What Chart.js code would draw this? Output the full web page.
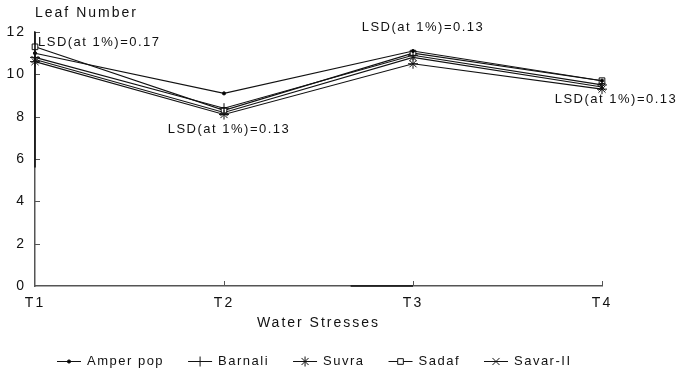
<!DOCTYPE html>
<html>
<head>
<meta charset="utf-8">
<script src="https://cdn.jsdelivr.net/npm/chart.js@4/dist/chart.umd.min.js"></script>
<style>
html,body{margin:0;padding:0;background:#fff;}
#wrap{width:678px;height:372px;position:relative;}
</style>
</head>
<body>
<div id="wrap"><canvas id="c" width="678" height="372"></canvas></div>
<script>
// ---- data ----
const categories = ['T1', 'T2', 'T3', 'T4'];
const seriesNames = ['Amper pop', 'Barnali', 'Suvra', 'Sadaf', 'Savar-II'];
const amperPop = [11.0, 9.1, 11.1, 9.7];
const barnali  = [10.8, 8.4, 10.9, 9.5];
const suvra    = [10.6, 8.1, 10.5, 9.3];
const sadaf    = [11.3, 8.3, 11.0, 9.7];
const savarII  = [10.7, 8.2, 10.8, 9.4];
const yTickValues = [0, 2, 4, 6, 8, 10, 12];
const lsdLabels = ['LSD(at 1%)=0.17', 'LSD(at 1%)=0.13', 'LSD(at 1%)=0.13', 'LSD(at 1%)=0.13'];
const yTitle = 'Leaf Number';
const xTitle = 'Water Stresses';

// ---- styles ----
const FONT = '"Liberation Sans", Arial, sans-serif';
const styles = [
  {pointStyle: 'circle', radius: 1.6, bg: '#000'},
  {pointStyle: 'cross', radius: 5, bg: '#000'},
  {pointStyle: 'star', radius: 5, bg: '#000'},
  {pointStyle: 'rect', radius: 4, bg: '#fff'},
  {pointStyle: 'crossRot', radius: 5, bg: '#000'}
];
const seriesData = [amperPop, barnali, suvra, sadaf, savarII];

const datasets = seriesData.map((d, i) => ({
  label: seriesNames[i],
  data: d,
  borderColor: '#111',
  borderWidth: 1.1,
  backgroundColor: styles[i].bg,
  pointStyle: styles[i].pointStyle,
  pointRadius: styles[i].radius,
  pointBorderColor: '#111',
  pointBorderWidth: 1,
  pointBackgroundColor: styles[i].bg,
  tension: 0,
  fill: false,
  clip: false
}));

const spacingPlugin = {
  id: 'spacing',
  beforeDraw(chart) { chart.ctx.letterSpacing = '2px'; }
};

// inner tick marks, annotations, y title and legend
const extrasPlugin = {
  id: 'extras',
  afterDraw(chart) {
    const ctx = chart.ctx;
    const xs = chart.scales.x, ys = chart.scales.y;
    ctx.save();
    ctx.strokeStyle = '#555';
    ctx.lineWidth = 1;
    // y inner ticks
    yTickValues.forEach(v => {
      if (v === 0) return;
      const y = Math.round(ys.getPixelForValue(v)) + 0.5;
      ctx.beginPath();
      ctx.moveTo(xs.left, y);
      ctx.lineTo(xs.left + 5, y);
      ctx.stroke();
    });
    // x inner ticks
    categories.forEach((c, i) => {
      if (i === 0) return;
      const x = Math.round(xs.getPixelForValue(i)) + 0.5;
      ctx.beginPath();
      ctx.moveTo(x, ys.bottom);
      ctx.lineTo(x, ys.bottom - 5);
      ctx.stroke();
    });
    // darker stretches of the scanned axes
    ctx.strokeStyle = '#111';
    ctx.lineWidth = 1.6;
    ctx.beginPath();
    ctx.moveTo(xs.getPixelForValue(1.67), ys.bottom);
    ctx.lineTo(xs.getPixelForValue(2), ys.bottom);
    ctx.moveTo(xs.left, ys.getPixelForValue(12));
    ctx.lineTo(xs.left, ys.getPixelForValue(5.6));
    ctx.stroke();
    // y title
    ctx.fillStyle = '#111';
    ctx.letterSpacing = '2px';
    ctx.font = '14px ' + FONT;
    ctx.textAlign = 'left';
    ctx.textBaseline = 'middle';
    ctx.fillText(yTitle, xs.left, ys.top - 19);
    // LSD annotations
    ctx.font = '13px ' + FONT;
    ctx.letterSpacing = '1.5px';
    const ann = [
      {i: 0, dx: 3, v: 11.5, align: 'left'},
      {i: 1, dx: 5, v: 7.4, align: 'center'},
      {i: 2, dx: 10, v: 12.2, align: 'center'},
      {i: 3, dx: 14, v: 8.8, align: 'center'}
    ];
    ann.forEach(a => {
      ctx.textAlign = a.align;
      ctx.fillText(lsdLabels[a.i], xs.getPixelForValue(a.i) + a.dx, ys.getPixelForValue(a.v));
    });
    // legend
    ctx.font = '13px ' + FONT;
    ctx.letterSpacing = '1.5px';
    ctx.textAlign = 'left';
    let x = 57;
    const ly = 361;
    chart.data.datasets.forEach((ds, i) => {
      ctx.strokeStyle = '#111';
      ctx.lineWidth = 1;
      ctx.beginPath();
      ctx.moveTo(x, ly + 0.5);
      ctx.lineTo(x + 24, ly + 0.5);
      ctx.stroke();
      ctx.fillStyle = ds.pointBackgroundColor;
      ctx.strokeStyle = '#111';
      Chart.helpers.drawPoint(ctx, {
        pointStyle: ds.pointStyle, radius: ds.pointRadius, rotation: 0, borderWidth: 1
      }, x + 12, ly + 0.5);
      ctx.fillStyle = '#111';
      ctx.fillText(ds.label, x + 30, ly);
      const w = ctx.measureText(ds.label).width;
      x += 30 + w + 24;
    });
    ctx.restore();
  }
};

new Chart(document.getElementById('c'), {
  type: 'line',
  data: {labels: categories, datasets},
  options: {
    responsive: false,
    animation: false,
    devicePixelRatio: 1,
    layout: {padding: {left: 0, right: 76, top: 32, bottom: 36}},
    plugins: {legend: {display: false}, tooltip: {enabled: false}},
    scales: {
      x: {
        type: 'category',
        offset: false,
        grid: {display: false, drawTicks: false},
        border: {display: true, color: '#555', width: 1.5},
        ticks: {color: '#111', font: {family: FONT, size: 14}, padding: 9, maxRotation: 0, autoSkip: false},
        title: {display: true, text: xTitle, color: '#111', font: {family: FONT, size: 14}, padding: {top: 0, bottom: 4}},
        afterFit(s) { s.height = 50; }
      },
      y: {
        min: 0, max: 12,
        afterBuildTicks(s) { s.ticks = yTickValues.map(v => ({value: v})); },
        grid: {display: false, drawTicks: false},
        border: {display: true, color: '#555', width: 1.5},
        ticks: {color: '#111', font: {family: FONT, size: 14}, padding: 9},
        afterFit(s) { s.width = 35; }
      }
    }
  },
  plugins: [spacingPlugin, extrasPlugin]
});
</script>
</body>
</html>
